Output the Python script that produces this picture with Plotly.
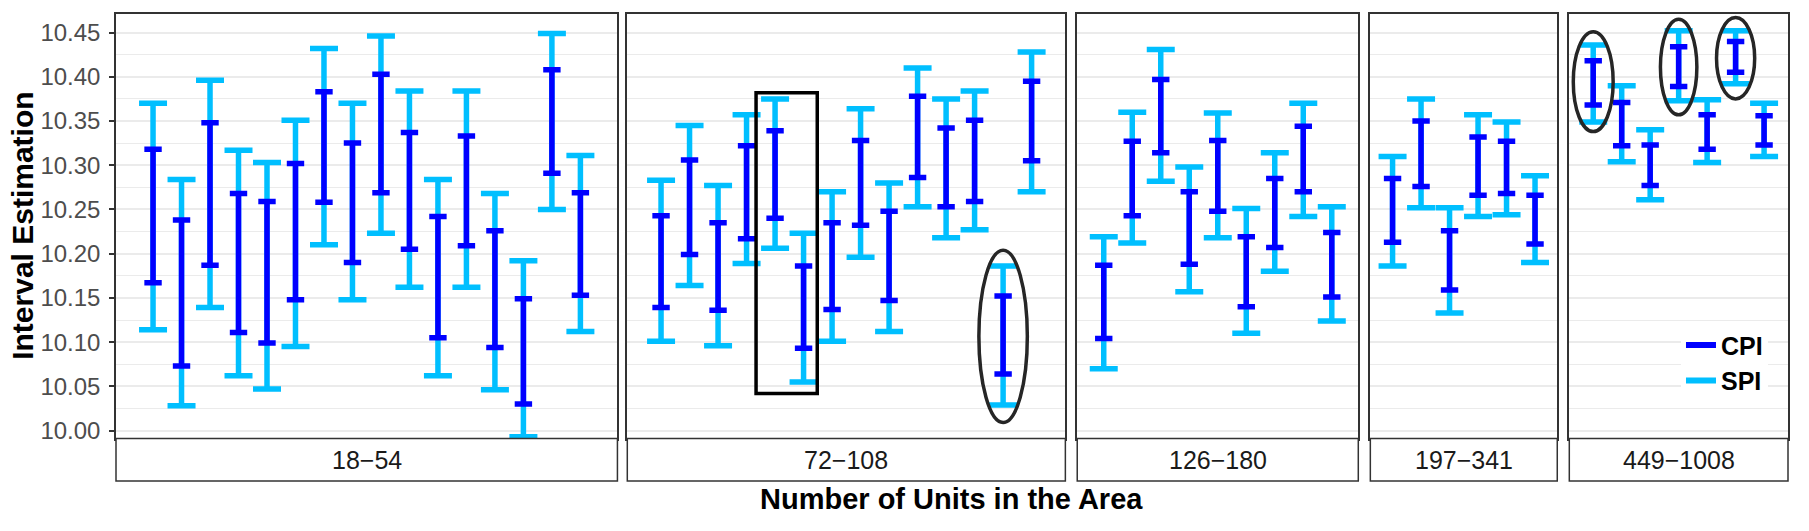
import plotly.graph_objects as go

# ---------------- data ----------------
facets = ["18−54", "72−108", "126−180", "197−341", "449−1008"]

spi_hi = [
    [10.370, 10.284, 10.396, 10.317, 10.303, 10.351, 10.432, 10.370, 10.446, 10.384, 10.284, 10.384, 10.268, 10.192, 10.449, 10.311],
    [10.283, 10.345, 10.277, 10.357, 10.375, 10.223, 10.270, 10.364, 10.280, 10.410, 10.375, 10.384, 10.186, 10.428],
    [10.219, 10.360, 10.431, 10.298, 10.359, 10.251, 10.314, 10.370, 10.253],
    [10.310, 10.375, 10.252, 10.357, 10.349, 10.288],
    [10.436, 10.390, 10.340, 10.452, 10.374, 10.452, 10.370],
]
spi_lo = [
    [10.114, 10.028, 10.139, 10.062, 10.047, 10.095, 10.210, 10.148, 10.223, 10.162, 10.062, 10.162, 10.046, 9.993, 10.250, 10.112],
    [10.101, 10.164, 10.096, 10.189, 10.206, 10.055, 10.101, 10.196, 10.112, 10.253, 10.218, 10.227, 10.029, 10.270],
    [10.070, 10.212, 10.282, 10.157, 10.218, 10.110, 10.180, 10.242, 10.124],
    [10.186, 10.252, 10.133, 10.242, 10.244, 10.190],
    [10.349, 10.304, 10.261, 10.373, 10.303, 10.392, 10.310],
]
cpi_hi = [
    [10.318, 10.238, 10.348, 10.268, 10.259, 10.302, 10.383, 10.325, 10.403, 10.337, 10.242, 10.333, 10.226, 10.149, 10.408, 10.269],
    [10.243, 10.306, 10.235, 10.322, 10.339, 10.186, 10.235, 10.328, 10.248, 10.378, 10.342, 10.351, 10.152, 10.395],
    [10.187, 10.327, 10.397, 10.270, 10.328, 10.219, 10.285, 10.344, 10.224],
    [10.285, 10.350, 10.226, 10.332, 10.327, 10.266],
    [10.418, 10.371, 10.323, 10.434, 10.357, 10.440, 10.356],
]
cpi_lo = [
    [10.167, 10.073, 10.187, 10.111, 10.099, 10.148, 10.258, 10.190, 10.269, 10.205, 10.105, 10.209, 10.094, 10.030, 10.291, 10.153],
    [10.139, 10.199, 10.136, 10.217, 10.240, 10.093, 10.137, 10.232, 10.147, 10.286, 10.253, 10.259, 10.064, 10.305],
    [10.104, 10.243, 10.314, 10.188, 10.248, 10.140, 10.207, 10.270, 10.151],
    [10.213, 10.276, 10.159, 10.266, 10.268, 10.211],
    [10.368, 10.322, 10.277, 10.389, 10.318, 10.405, 10.323],
]
y_ticks = [10.00, 10.05, 10.10, 10.15, 10.20, 10.25, 10.30, 10.35, 10.40, 10.45]

# ---------------- styling / layout ----------------
CPI_COLOR = "#0000FF"
SPI_COLOR = "#00BFFF"
FONT = "Liberation Sans, Arial, Helvetica, sans-serif"
BORDER = "#333333"

x_domains = [[0.0, 0.2999], [0.3058, 0.5678], [0.5749, 0.7430], [0.7502, 0.8620], [0.8692, 1.0]]
x_pads = [1.30, 1.184, 0.93, 0.78, 0.84]
y_range = [9.991, 10.471]
panel_bottom = 0.091

fig = go.Figure()
layout = {}
shapes = []
annotations = []

for i, name in enumerate(facets):
    ax = "" if i == 0 else str(i + 1)
    n = len(spi_hi[i])
    xs = list(range(n))
    for hi_s, lo_s, color, cap in [(spi_hi, spi_lo, SPI_COLOR, 14), (cpi_hi, cpi_lo, CPI_COLOR, 8.7)]:
        hi = hi_s[i]
        lo = lo_s[i]
        mid = [(a + b) / 2 for a, b in zip(hi, lo)]
        half = [(a - b) / 2 for a, b in zip(hi, lo)]
        fig.add_trace(go.Scatter(
            x=xs, y=mid, mode="markers",
            marker=dict(size=1, color="rgba(0,0,0,0)"),
            error_y=dict(type="data", array=half, symmetric=True, color=color,
                         thickness=5.5, width=cap),
            showlegend=False, hoverinfo="skip",
            xaxis="x" + ax, yaxis="y" + ax,
        ))
    pad = x_pads[i]
    layout["xaxis" + ax] = dict(
        domain=x_domains[i], range=[-pad, n - 1 + pad], anchor="y" + ax,
        showgrid=False, zeroline=False, showticklabels=False, ticks="",
        showline=True, mirror=True, linecolor=BORDER, linewidth=1.5,
    )
    layout["yaxis" + ax] = dict(
        domain=[panel_bottom, 1], range=y_range, anchor="x" + ax,
        tickvals=y_ticks, tickformat=".2f",
        showticklabels=(i == 0), ticks="outside" if i == 0 else "",
        ticklen=5, tickwidth=1.5, tickcolor=BORDER, ticklabelstandoff=4,
        tickfont=dict(family=FONT, size=24, color="#4D4D4D"),
        showgrid=True, gridcolor="#EBEBEB", gridwidth=1.6,
        minor=dict(tick0=10.0, dtick=0.025, showgrid=True, gridcolor="#EBEBEB", gridwidth=0.9),
        showline=True, mirror=True, linecolor=BORDER, linewidth=1.5, zeroline=False,
    )
    # strip below panel
    shapes.append(dict(type="rect", xref="paper", yref="paper",
                       x0=x_domains[i][0], x1=x_domains[i][1], y0=0, y1=panel_bottom,
                       line=dict(color=BORDER, width=1.5), fillcolor="white", layer="above"))
    annotations.append(dict(text=name, xref="paper", yref="paper",
                            x=(x_domains[i][0] + x_domains[i][1]) / 2, y=panel_bottom / 2,
                            xanchor="center", yanchor="middle", showarrow=False,
                            font=dict(family=FONT, size=25, color="#1A1A1A")))

# legend entries
fig.add_trace(go.Scatter(x=[None], y=[None], mode="lines", name="CPI",
                         line=dict(color=CPI_COLOR, width=6), xaxis="x5", yaxis="y5"))
fig.add_trace(go.Scatter(x=[None], y=[None], mode="lines", name="SPI",
                         line=dict(color=SPI_COLOR, width=6), xaxis="x5", yaxis="y5"))

# highlight marks
shapes.append(dict(type="rect", xref="x2", yref="y2", x0=3.333, x1=5.48, y0=10.042, y1=10.382,
                   line=dict(color="black", width=3.5)))
ellipse_style = dict(color="#262626", width=3.5)
shapes.append(dict(type="circle", xref="x2", yref="y2", x0=11.15, x1=12.85, y0=10.009, y1=10.204,
                   line=ellipse_style))
shapes.append(dict(type="circle", xref="x5", yref="y5", x0=-0.70, x1=0.70, y0=10.338, y1=10.451,
                   line=ellipse_style))
shapes.append(dict(type="circle", xref="x5", yref="y5", x0=2.36, x1=3.64, y0=10.357, y1=10.465,
                   line=ellipse_style))
shapes.append(dict(type="circle", xref="x5", yref="y5", x0=4.33, x1=5.67, y0=10.375, y1=10.467,
                   line=ellipse_style))

# axis titles
annotations.append(dict(text="Number of Units in the Area", xref="paper", yref="paper",
                        x=0.4995, y=-0.0384, xanchor="center", yanchor="middle", showarrow=False,
                        font=dict(family=FONT, size=29, color="black", weight="bold")))
annotations.append(dict(text="Interval Estimation", xref="paper", yref="paper",
                        x=-0.0564, y=0.5458, xanchor="center", yanchor="middle", showarrow=False,
                        textangle=-90,
                        font=dict(family=FONT, size=30, color="black", weight="bold")))

fig.update_layout(
    **layout,
    width=1809, height=531,
    margin=dict(l=116, r=21, t=12, b=50),
    paper_bgcolor="white", plot_bgcolor="white",
    shapes=shapes, annotations=annotations,
    showlegend=True,
    legend=dict(x=0.936, y=0.34, xanchor="left", yanchor="top",
                bgcolor="white", borderwidth=0, itemwidth=30,
                font=dict(family=FONT, size=25, color="black", weight="bold")),
    font=dict(family=FONT),
)

fig.write_html("out.html")
